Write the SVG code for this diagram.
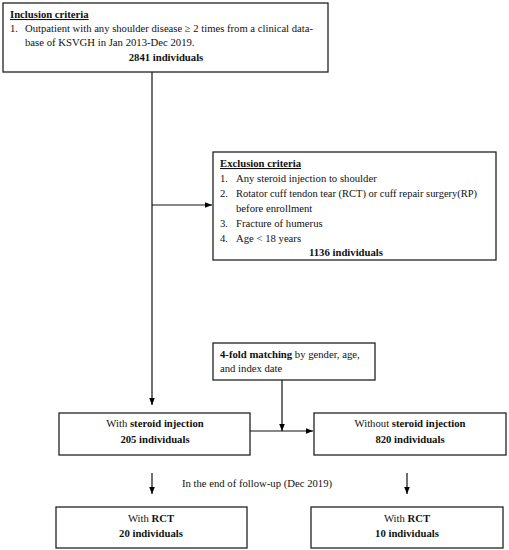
<svg xmlns="http://www.w3.org/2000/svg" width="509" height="550" viewBox="0 0 509 550">
<defs>
<marker id="ah" viewBox="0 0 10 10" refX="10" refY="5" markerWidth="7" markerHeight="7" markerUnits="userSpaceOnUse" orient="auto">
<path d="M0,1 L10,5 L0,9 Z" fill="#000"/>
</marker>
<style>
.box{fill:#fff;stroke:#222;stroke-width:1.3}
.ln{fill:none;stroke:#111;stroke-width:1.2}
text{font-family:"Liberation Serif","DejaVu Serif",serif;font-size:10.7px;fill:#111}
.b{font-weight:bold}
.c{text-anchor:middle}
.u{text-decoration:underline;font-weight:bold}
</style>
</defs>
<rect width="509" height="550" fill="#fff"/>
<g id="connectors">
<line class="ln" x1="152" y1="72" x2="152" y2="405" marker-end="url(#ah)"/>
<line class="ln" x1="152" y1="205" x2="212" y2="205" marker-end="url(#ah)"/>
<line class="ln" x1="282" y1="380" x2="282" y2="431" marker-end="url(#ah)"/>
<line class="ln" x1="250" y1="431" x2="313" y2="431" marker-end="url(#ah)"/>
<line class="ln" x1="152" y1="473" x2="152" y2="494" marker-end="url(#ah)"/>
<line class="ln" x1="407" y1="473" x2="407" y2="494" marker-end="url(#ah)"/>
</g>
<g id="inclusion">
<rect class="box" x="3" y="3" width="325" height="69"/>
<text x="10" y="18" class="u">Inclusion criteria</text>
<text x="10" y="32">1.</text>
<text x="25" y="32" textLength="288" lengthAdjust="spacingAndGlyphs">Outpatient with any shoulder disease ≥ 2 times from a clinical data-</text>
<text x="25" y="46">base of KSVGH in Jan 2013-Dec 2019.</text>
<text x="166" y="61" class="c b">2841 individuals</text>
</g>
<g id="exclusion">
<rect class="box" x="213" y="152" width="283" height="108"/>
<text x="220" y="167" class="u">Exclusion criteria</text>
<text x="220" y="182">1.</text><text x="236" y="182">Any steroid injection to shoulder</text>
<text x="220" y="197">2.</text><text x="236" y="197" textLength="241" lengthAdjust="spacingAndGlyphs">Rotator cuff tendon tear (RCT) or cuff repair surgery(RP)</text>
<text x="236" y="212">before enrollment</text>
<text x="220" y="227">3.</text><text x="236" y="227">Fracture of humerus</text>
<text x="220" y="242">4.</text><text x="236" y="242">Age &lt; 18 years</text>
<text x="346" y="256" class="c b">1136 individuals</text>
</g>
<g id="matching">
<rect class="box" x="213" y="343" width="162" height="37"/>
<text x="220" y="358"><tspan class="b">4-fold matching</tspan> by gender, age,</text>
<text x="220" y="372">and index date</text>
</g>
<g id="with-steroid">
<rect class="box" x="59" y="413" width="191" height="42"/>
<text x="155" y="427" class="c">With <tspan class="b">steroid injection</tspan></text>
<text x="155" y="443" class="c b">205 individuals</text>
</g>
<g id="without-steroid">
<rect class="box" x="314" y="413" width="192" height="42"/>
<text x="410" y="427" class="c">Without <tspan class="b">steroid injection</tspan></text>
<text x="410" y="443" class="c b">820 individuals</text>
</g>
<text x="257" y="487" class="c">In the end of follow-up (Dec 2019)</text>
<g id="with-rct">
<rect class="box" x="56" y="507" width="191" height="41"/>
<text x="151" y="522" class="c">With <tspan class="b">RCT</tspan></text>
<text x="151" y="537" class="c b">20 individuals</text>
</g>
<g id="without-rct">
<rect class="box" x="311" y="507" width="192" height="41"/>
<text x="407" y="522" class="c">With <tspan class="b">RCT</tspan></text>
<text x="407" y="537" class="c b">10 individuals</text>
</g>
</svg>
